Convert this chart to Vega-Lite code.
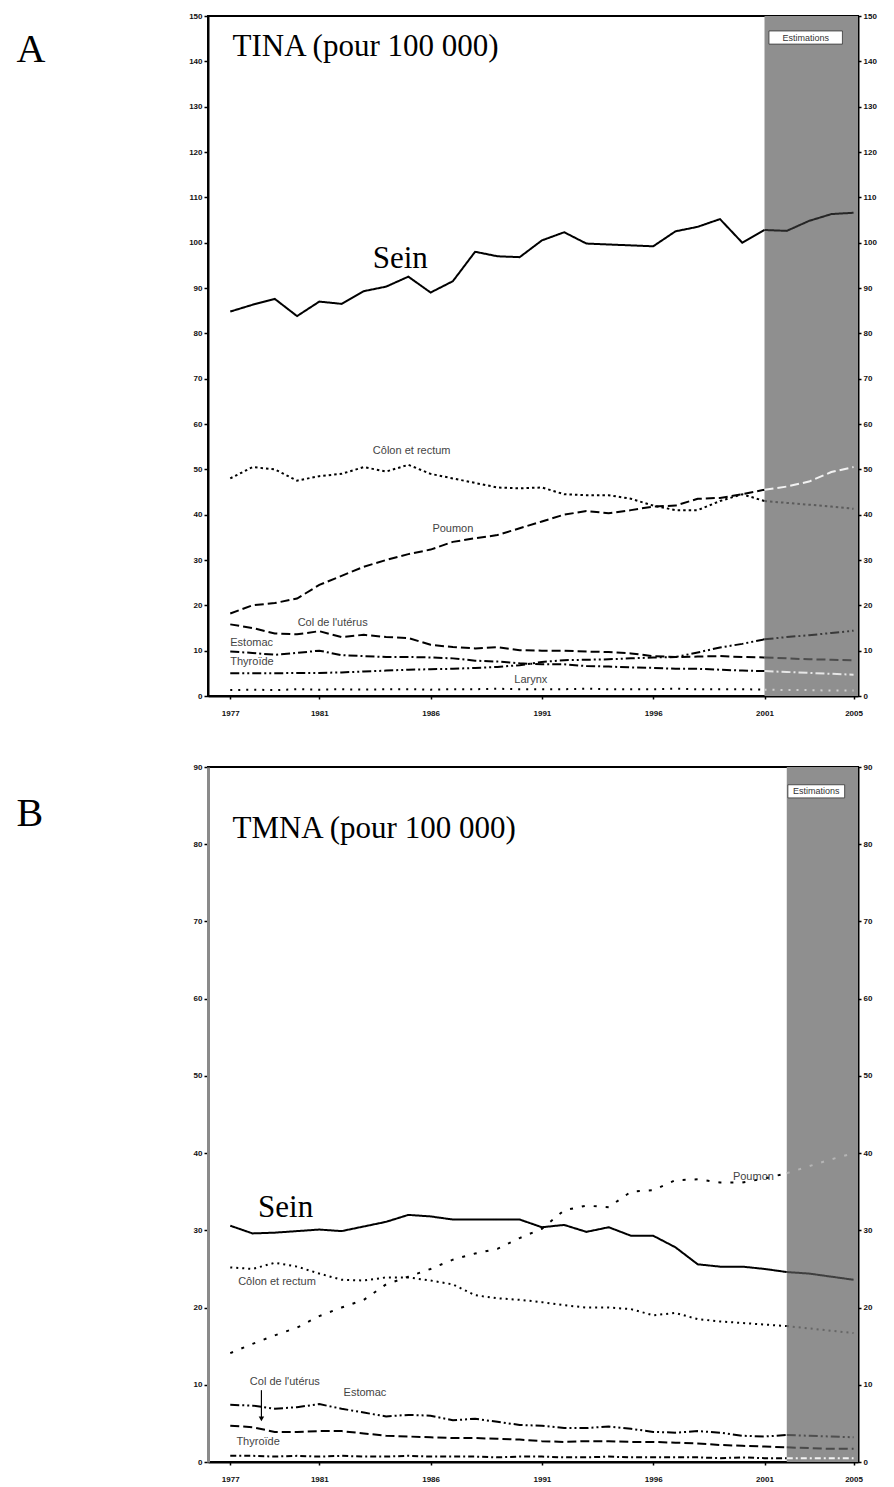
{
"$schema":"https://vega.github.io/schema/vega-lite/v6.json",
"background":"white",
"padding":{"left":15,"top":11,"right":5,"bottom":5},
"config":{
 "view":{"stroke":"#000","strokeWidth":2},
 "axis":{"grid":false,"labelFont":"Liberation Sans","labelFontSize":8,"labelFontWeight":"bold","labelColor":"#111","tickColor":"#000","domainColor":"#000","domainWidth":2,"tickSize":4,"tickWidth":1.5,"labelPadding":2}
},
"datasets":{
 "bandA":[{"year":2001,"year2":2005.2,"value":0,"value2":150}],
 "boxA":[{"year":2001.2,"year2":2004.5,"value":143.8,"value2":146.7}],
 "labelsA":[
  {"label":"TINA (pour 100 000)","kind":"title","year":1977.1,"value":141.2},
  {"label":"Sein","kind":"big","year":1983.4,"value":94.5},
  {"label":"Côlon et rectum","kind":"small","year":1985.15,"value":54.0},
  {"label":"Poumon","kind":"small","year":1987.0,"value":36.8},
  {"label":"Col de l'utérus","kind":"small","year":1981.6,"value":16.2},
  {"label":"Estomac","kind":"left","year":1977.0,"value":11.8},
  {"label":"Thyroïde","kind":"left","year":1977.0,"value":7.6},
  {"label":"Larynx","kind":"small","year":1990.5,"value":3.5},
  {"label":"Estimations","kind":"box","year":2002.85,"value":145.25}
 ],
 "linesA":[
  {"serie":"Sein","year":1977,"value":84.8},{"serie":"Sein","year":1978,"value":86.3},{"serie":"Sein","year":1979,"value":87.6},{"serie":"Sein","year":1980,"value":83.8},{"serie":"Sein","year":1981,"value":87.0},{"serie":"Sein","year":1982,"value":86.5},{"serie":"Sein","year":1983,"value":89.3},{"serie":"Sein","year":1984,"value":90.3},{"serie":"Sein","year":1985,"value":92.5},{"serie":"Sein","year":1986,"value":89.0},{"serie":"Sein","year":1987,"value":91.5},{"serie":"Sein","year":1988,"value":98.0},{"serie":"Sein","year":1989,"value":97.0},{"serie":"Sein","year":1990,"value":96.8},{"serie":"Sein","year":1991,"value":100.5},{"serie":"Sein","year":1992,"value":102.3},{"serie":"Sein","year":1993,"value":99.8},{"serie":"Sein","year":1994,"value":99.6},{"serie":"Sein","year":1995,"value":99.4},{"serie":"Sein","year":1996,"value":99.2},{"serie":"Sein","year":1997,"value":102.5},{"serie":"Sein","year":1998,"value":103.5},{"serie":"Sein","year":1999,"value":105.2},{"serie":"Sein","year":2000,"value":100.0},{"serie":"Sein","year":2001,"value":102.8},{"serie":"Sein","year":2002,"value":102.6},{"serie":"Sein","year":2003,"value":104.8},{"serie":"Sein","year":2004,"value":106.3},{"serie":"Sein","year":2005,"value":106.6},
  {"serie":"Côlon et rectum","year":1977,"value":48.0},{"serie":"Côlon et rectum","year":1978,"value":50.5},{"serie":"Côlon et rectum","year":1979,"value":50.0},{"serie":"Côlon et rectum","year":1980,"value":47.5},{"serie":"Côlon et rectum","year":1981,"value":48.5},{"serie":"Côlon et rectum","year":1982,"value":49.0},{"serie":"Côlon et rectum","year":1983,"value":50.5},{"serie":"Côlon et rectum","year":1984,"value":49.5},{"serie":"Côlon et rectum","year":1985,"value":51.0},{"serie":"Côlon et rectum","year":1986,"value":49.0},{"serie":"Côlon et rectum","year":1987,"value":48.0},{"serie":"Côlon et rectum","year":1988,"value":47.0},{"serie":"Côlon et rectum","year":1989,"value":46.0},{"serie":"Côlon et rectum","year":1990,"value":45.8},{"serie":"Côlon et rectum","year":1991,"value":46.0},{"serie":"Côlon et rectum","year":1992,"value":44.5},{"serie":"Côlon et rectum","year":1993,"value":44.3},{"serie":"Côlon et rectum","year":1994,"value":44.3},{"serie":"Côlon et rectum","year":1995,"value":43.5},{"serie":"Côlon et rectum","year":1996,"value":42.0},{"serie":"Côlon et rectum","year":1997,"value":41.0},{"serie":"Côlon et rectum","year":1998,"value":41.0},{"serie":"Côlon et rectum","year":1999,"value":43.0},{"serie":"Côlon et rectum","year":2000,"value":44.5},{"serie":"Côlon et rectum","year":2001,"value":43.0},{"serie":"Côlon et rectum","year":2002,"value":42.6},{"serie":"Côlon et rectum","year":2003,"value":42.2},{"serie":"Côlon et rectum","year":2004,"value":41.8},{"serie":"Côlon et rectum","year":2005,"value":41.3},
  {"serie":"Poumon","year":1977,"value":18.2},{"serie":"Poumon","year":1978,"value":20.0},{"serie":"Poumon","year":1979,"value":20.5},{"serie":"Poumon","year":1980,"value":21.5},{"serie":"Poumon","year":1981,"value":24.5},{"serie":"Poumon","year":1982,"value":26.5},{"serie":"Poumon","year":1983,"value":28.5},{"serie":"Poumon","year":1984,"value":30.0},{"serie":"Poumon","year":1985,"value":31.3},{"serie":"Poumon","year":1986,"value":32.3},{"serie":"Poumon","year":1987,"value":34.0},{"serie":"Poumon","year":1988,"value":34.8},{"serie":"Poumon","year":1989,"value":35.5},{"serie":"Poumon","year":1990,"value":37.0},{"serie":"Poumon","year":1991,"value":38.5},{"serie":"Poumon","year":1992,"value":40.0},{"serie":"Poumon","year":1993,"value":40.8},{"serie":"Poumon","year":1994,"value":40.3},{"serie":"Poumon","year":1995,"value":41.0},{"serie":"Poumon","year":1996,"value":41.8},{"serie":"Poumon","year":1997,"value":42.0},{"serie":"Poumon","year":1998,"value":43.5},{"serie":"Poumon","year":1999,"value":43.7},{"serie":"Poumon","year":2000,"value":44.5},{"serie":"Poumon","year":2001,"value":45.5},{"serie":"Poumon","year":2002,"value":46.2},{"serie":"Poumon","year":2003,"value":47.3},{"serie":"Poumon","year":2004,"value":49.4},{"serie":"Poumon","year":2005,"value":50.5},
  {"serie":"Col de l'utérus","year":1977,"value":15.8},{"serie":"Col de l'utérus","year":1978,"value":15.0},{"serie":"Col de l'utérus","year":1979,"value":13.8},{"serie":"Col de l'utérus","year":1980,"value":13.6},{"serie":"Col de l'utérus","year":1981,"value":14.3},{"serie":"Col de l'utérus","year":1982,"value":13.0},{"serie":"Col de l'utérus","year":1983,"value":13.5},{"serie":"Col de l'utérus","year":1984,"value":13.0},{"serie":"Col de l'utérus","year":1985,"value":12.8},{"serie":"Col de l'utérus","year":1986,"value":11.3},{"serie":"Col de l'utérus","year":1987,"value":10.8},{"serie":"Col de l'utérus","year":1988,"value":10.5},{"serie":"Col de l'utérus","year":1989,"value":10.8},{"serie":"Col de l'utérus","year":1990,"value":10.1},{"serie":"Col de l'utérus","year":1991,"value":10.0},{"serie":"Col de l'utérus","year":1992,"value":10.0},{"serie":"Col de l'utérus","year":1993,"value":9.8},{"serie":"Col de l'utérus","year":1994,"value":9.7},{"serie":"Col de l'utérus","year":1995,"value":9.4},{"serie":"Col de l'utérus","year":1996,"value":8.8},{"serie":"Col de l'utérus","year":1997,"value":8.6},{"serie":"Col de l'utérus","year":1998,"value":8.7},{"serie":"Col de l'utérus","year":1999,"value":8.8},{"serie":"Col de l'utérus","year":2000,"value":8.6},{"serie":"Col de l'utérus","year":2001,"value":8.5},{"serie":"Col de l'utérus","year":2002,"value":8.3},{"serie":"Col de l'utérus","year":2003,"value":8.1},{"serie":"Col de l'utérus","year":2004,"value":8.0},{"serie":"Col de l'utérus","year":2005,"value":7.9},
  {"serie":"Estomac","year":1977,"value":9.8},{"serie":"Estomac","year":1978,"value":9.5},{"serie":"Estomac","year":1979,"value":9.1},{"serie":"Estomac","year":1980,"value":9.5},{"serie":"Estomac","year":1981,"value":10.0},{"serie":"Estomac","year":1982,"value":9.0},{"serie":"Estomac","year":1983,"value":8.8},{"serie":"Estomac","year":1984,"value":8.6},{"serie":"Estomac","year":1985,"value":8.6},{"serie":"Estomac","year":1986,"value":8.5},{"serie":"Estomac","year":1987,"value":8.3},{"serie":"Estomac","year":1988,"value":7.8},{"serie":"Estomac","year":1989,"value":7.6},{"serie":"Estomac","year":1990,"value":7.2},{"serie":"Estomac","year":1991,"value":7.0},{"serie":"Estomac","year":1992,"value":7.0},{"serie":"Estomac","year":1993,"value":6.6},{"serie":"Estomac","year":1994,"value":6.5},{"serie":"Estomac","year":1995,"value":6.3},{"serie":"Estomac","year":1996,"value":6.2},{"serie":"Estomac","year":1997,"value":6.0},{"serie":"Estomac","year":1998,"value":6.0},{"serie":"Estomac","year":1999,"value":5.8},{"serie":"Estomac","year":2000,"value":5.6},{"serie":"Estomac","year":2001,"value":5.5},{"serie":"Estomac","year":2002,"value":5.3},{"serie":"Estomac","year":2003,"value":5.1},{"serie":"Estomac","year":2004,"value":4.9},{"serie":"Estomac","year":2005,"value":4.7},
  {"serie":"Thyroïde","year":1977,"value":5.0},{"serie":"Thyroïde","year":1978,"value":5.0},{"serie":"Thyroïde","year":1979,"value":5.0},{"serie":"Thyroïde","year":1980,"value":5.1},{"serie":"Thyroïde","year":1981,"value":5.1},{"serie":"Thyroïde","year":1982,"value":5.2},{"serie":"Thyroïde","year":1983,"value":5.4},{"serie":"Thyroïde","year":1984,"value":5.6},{"serie":"Thyroïde","year":1985,"value":5.8},{"serie":"Thyroïde","year":1986,"value":5.9},{"serie":"Thyroïde","year":1987,"value":6.0},{"serie":"Thyroïde","year":1988,"value":6.2},{"serie":"Thyroïde","year":1989,"value":6.4},{"serie":"Thyroïde","year":1990,"value":6.8},{"serie":"Thyroïde","year":1991,"value":7.5},{"serie":"Thyroïde","year":1992,"value":7.9},{"serie":"Thyroïde","year":1993,"value":8.0},{"serie":"Thyroïde","year":1994,"value":8.1},{"serie":"Thyroïde","year":1995,"value":8.3},{"serie":"Thyroïde","year":1996,"value":8.5},{"serie":"Thyroïde","year":1997,"value":8.6},{"serie":"Thyroïde","year":1998,"value":9.6},{"serie":"Thyroïde","year":1999,"value":10.7},{"serie":"Thyroïde","year":2000,"value":11.5},{"serie":"Thyroïde","year":2001,"value":12.5},{"serie":"Thyroïde","year":2002,"value":13.0},{"serie":"Thyroïde","year":2003,"value":13.4},{"serie":"Thyroïde","year":2004,"value":13.9},{"serie":"Thyroïde","year":2005,"value":14.4},
  {"serie":"Larynx","year":1977,"value":1.3},{"serie":"Larynx","year":1978,"value":1.4},{"serie":"Larynx","year":1979,"value":1.3},{"serie":"Larynx","year":1980,"value":1.5},{"serie":"Larynx","year":1981,"value":1.4},{"serie":"Larynx","year":1982,"value":1.5},{"serie":"Larynx","year":1983,"value":1.4},{"serie":"Larynx","year":1984,"value":1.5},{"serie":"Larynx","year":1985,"value":1.5},{"serie":"Larynx","year":1986,"value":1.4},{"serie":"Larynx","year":1987,"value":1.5},{"serie":"Larynx","year":1988,"value":1.5},{"serie":"Larynx","year":1989,"value":1.6},{"serie":"Larynx","year":1990,"value":1.5},{"serie":"Larynx","year":1991,"value":1.5},{"serie":"Larynx","year":1992,"value":1.5},{"serie":"Larynx","year":1993,"value":1.6},{"serie":"Larynx","year":1994,"value":1.5},{"serie":"Larynx","year":1995,"value":1.5},{"serie":"Larynx","year":1996,"value":1.5},{"serie":"Larynx","year":1997,"value":1.6},{"serie":"Larynx","year":1998,"value":1.5},{"serie":"Larynx","year":1999,"value":1.5},{"serie":"Larynx","year":2000,"value":1.5},{"serie":"Larynx","year":2001,"value":1.4},{"serie":"Larynx","year":2002,"value":1.3},{"serie":"Larynx","year":2003,"value":1.3},{"serie":"Larynx","year":2004,"value":1.2},{"serie":"Larynx","year":2005,"value":1.2}
 ],
 "bandB":[{"year":2002,"year2":2005.2,"value":0,"value2":90}],
 "boxB":[{"year":2002.05,"year2":2004.6,"value":86.0,"value2":87.7}],
 "arrowB":[{"year":1978.4,"value":9.3,"value2":5.6}],
 "labelsB":[
  {"label":"TMNA (pour 100 000)","kind":"title","year":1977.1,"value":80.8},
  {"label":"Sein","kind":"big","year":1978.25,"value":31.7},
  {"label":"Côlon et rectum","kind":"small","year":1979.1,"value":23.3},
  {"label":"Poumon","kind":"small","year":2000.5,"value":36.9},
  {"label":"Col de l'utérus","kind":"small","year":1979.45,"value":10.3},
  {"label":"Estomac","kind":"small","year":1983.05,"value":9.0},
  {"label":"Thyroïde","kind":"small","year":1978.25,"value":2.6},
  {"label":"Estimations","kind":"box","year":2003.33,"value":86.85}
 ],
 "linesB":[
  {"serie":"Sein","year":1977,"value":30.6},{"serie":"Sein","year":1978,"value":29.6},{"serie":"Sein","year":1979,"value":29.7},{"serie":"Sein","year":1980,"value":29.9},{"serie":"Sein","year":1981,"value":30.1},{"serie":"Sein","year":1982,"value":29.9},{"serie":"Sein","year":1983,"value":30.5},{"serie":"Sein","year":1984,"value":31.1},{"serie":"Sein","year":1985,"value":32.0},{"serie":"Sein","year":1986,"value":31.8},{"serie":"Sein","year":1987,"value":31.4},{"serie":"Sein","year":1988,"value":31.4},{"serie":"Sein","year":1989,"value":31.4},{"serie":"Sein","year":1990,"value":31.4},{"serie":"Sein","year":1991,"value":30.4},{"serie":"Sein","year":1992,"value":30.7},{"serie":"Sein","year":1993,"value":29.8},{"serie":"Sein","year":1994,"value":30.4},{"serie":"Sein","year":1995,"value":29.3},{"serie":"Sein","year":1996,"value":29.3},{"serie":"Sein","year":1997,"value":27.8},{"serie":"Sein","year":1998,"value":25.6},{"serie":"Sein","year":1999,"value":25.3},{"serie":"Sein","year":2000,"value":25.3},{"serie":"Sein","year":2001,"value":25.0},{"serie":"Sein","year":2002,"value":24.6},{"serie":"Sein","year":2003,"value":24.4},{"serie":"Sein","year":2004,"value":24.0},{"serie":"Sein","year":2005,"value":23.6},
  {"serie":"Côlon et rectum","year":1977,"value":25.2},{"serie":"Côlon et rectum","year":1978,"value":25.0},{"serie":"Côlon et rectum","year":1979,"value":25.8},{"serie":"Côlon et rectum","year":1980,"value":25.3},{"serie":"Côlon et rectum","year":1981,"value":24.4},{"serie":"Côlon et rectum","year":1982,"value":23.6},{"serie":"Côlon et rectum","year":1983,"value":23.5},{"serie":"Côlon et rectum","year":1984,"value":23.9},{"serie":"Côlon et rectum","year":1985,"value":23.9},{"serie":"Côlon et rectum","year":1986,"value":23.5},{"serie":"Côlon et rectum","year":1987,"value":23.0},{"serie":"Côlon et rectum","year":1988,"value":21.6},{"serie":"Côlon et rectum","year":1989,"value":21.2},{"serie":"Côlon et rectum","year":1990,"value":21.0},{"serie":"Côlon et rectum","year":1991,"value":20.7},{"serie":"Côlon et rectum","year":1992,"value":20.3},{"serie":"Côlon et rectum","year":1993,"value":20.0},{"serie":"Côlon et rectum","year":1994,"value":20.0},{"serie":"Côlon et rectum","year":1995,"value":19.8},{"serie":"Côlon et rectum","year":1996,"value":19.0},{"serie":"Côlon et rectum","year":1997,"value":19.3},{"serie":"Côlon et rectum","year":1998,"value":18.5},{"serie":"Côlon et rectum","year":1999,"value":18.2},{"serie":"Côlon et rectum","year":2000,"value":18.0},{"serie":"Côlon et rectum","year":2001,"value":17.8},{"serie":"Côlon et rectum","year":2002,"value":17.6},{"serie":"Côlon et rectum","year":2003,"value":17.3},{"serie":"Côlon et rectum","year":2004,"value":17.0},{"serie":"Côlon et rectum","year":2005,"value":16.7},
  {"serie":"Poumon","year":1977,"value":14.1},{"serie":"Poumon","year":1978,"value":15.3},{"serie":"Poumon","year":1979,"value":16.4},{"serie":"Poumon","year":1980,"value":17.4},{"serie":"Poumon","year":1981,"value":18.9},{"serie":"Poumon","year":1982,"value":20.0},{"serie":"Poumon","year":1983,"value":21.0},{"serie":"Poumon","year":1984,"value":23.0},{"serie":"Poumon","year":1985,"value":24.0},{"serie":"Poumon","year":1986,"value":25.0},{"serie":"Poumon","year":1987,"value":26.2},{"serie":"Poumon","year":1988,"value":27.0},{"serie":"Poumon","year":1989,"value":27.6},{"serie":"Poumon","year":1990,"value":29.0},{"serie":"Poumon","year":1991,"value":30.2},{"serie":"Poumon","year":1992,"value":32.6},{"serie":"Poumon","year":1993,"value":33.2},{"serie":"Poumon","year":1994,"value":33.0},{"serie":"Poumon","year":1995,"value":35.0},{"serie":"Poumon","year":1996,"value":35.2},{"serie":"Poumon","year":1997,"value":36.5},{"serie":"Poumon","year":1998,"value":36.6},{"serie":"Poumon","year":1999,"value":36.2},{"serie":"Poumon","year":2000,"value":36.2},{"serie":"Poumon","year":2001,"value":36.7},{"serie":"Poumon","year":2002,"value":37.4},{"serie":"Poumon","year":2003,"value":38.3},{"serie":"Poumon","year":2004,"value":39.2},{"serie":"Poumon","year":2005,"value":40.0},
  {"serie":"Col de l'utérus","year":1977,"value":4.7},{"serie":"Col de l'utérus","year":1978,"value":4.5},{"serie":"Col de l'utérus","year":1979,"value":3.9},{"serie":"Col de l'utérus","year":1980,"value":3.9},{"serie":"Col de l'utérus","year":1981,"value":4.0},{"serie":"Col de l'utérus","year":1982,"value":4.0},{"serie":"Col de l'utérus","year":1983,"value":3.7},{"serie":"Col de l'utérus","year":1984,"value":3.4},{"serie":"Col de l'utérus","year":1985,"value":3.3},{"serie":"Col de l'utérus","year":1986,"value":3.2},{"serie":"Col de l'utérus","year":1987,"value":3.1},{"serie":"Col de l'utérus","year":1988,"value":3.1},{"serie":"Col de l'utérus","year":1989,"value":3.0},{"serie":"Col de l'utérus","year":1990,"value":2.9},{"serie":"Col de l'utérus","year":1991,"value":2.7},{"serie":"Col de l'utérus","year":1992,"value":2.6},{"serie":"Col de l'utérus","year":1993,"value":2.7},{"serie":"Col de l'utérus","year":1994,"value":2.7},{"serie":"Col de l'utérus","year":1995,"value":2.6},{"serie":"Col de l'utérus","year":1996,"value":2.6},{"serie":"Col de l'utérus","year":1997,"value":2.5},{"serie":"Col de l'utérus","year":1998,"value":2.4},{"serie":"Col de l'utérus","year":1999,"value":2.2},{"serie":"Col de l'utérus","year":2000,"value":2.1},{"serie":"Col de l'utérus","year":2001,"value":2.0},{"serie":"Col de l'utérus","year":2002,"value":1.9},{"serie":"Col de l'utérus","year":2003,"value":1.8},{"serie":"Col de l'utérus","year":2004,"value":1.7},{"serie":"Col de l'utérus","year":2005,"value":1.7},
  {"serie":"Estomac","year":1977,"value":7.4},{"serie":"Estomac","year":1978,"value":7.3},{"serie":"Estomac","year":1979,"value":6.9},{"serie":"Estomac","year":1980,"value":7.1},{"serie":"Estomac","year":1981,"value":7.5},{"serie":"Estomac","year":1982,"value":6.9},{"serie":"Estomac","year":1983,"value":6.4},{"serie":"Estomac","year":1984,"value":5.9},{"serie":"Estomac","year":1985,"value":6.1},{"serie":"Estomac","year":1986,"value":6.0},{"serie":"Estomac","year":1987,"value":5.4},{"serie":"Estomac","year":1988,"value":5.6},{"serie":"Estomac","year":1989,"value":5.2},{"serie":"Estomac","year":1990,"value":4.8},{"serie":"Estomac","year":1991,"value":4.7},{"serie":"Estomac","year":1992,"value":4.4},{"serie":"Estomac","year":1993,"value":4.4},{"serie":"Estomac","year":1994,"value":4.6},{"serie":"Estomac","year":1995,"value":4.3},{"serie":"Estomac","year":1996,"value":3.9},{"serie":"Estomac","year":1997,"value":3.8},{"serie":"Estomac","year":1998,"value":4.0},{"serie":"Estomac","year":1999,"value":3.8},{"serie":"Estomac","year":2000,"value":3.4},{"serie":"Estomac","year":2001,"value":3.3},{"serie":"Estomac","year":2002,"value":3.5},{"serie":"Estomac","year":2003,"value":3.4},{"serie":"Estomac","year":2004,"value":3.3},{"serie":"Estomac","year":2005,"value":3.2},
  {"serie":"Thyroïde","year":1977,"value":0.8},{"serie":"Thyroïde","year":1978,"value":0.8},{"serie":"Thyroïde","year":1979,"value":0.7},{"serie":"Thyroïde","year":1980,"value":0.8},{"serie":"Thyroïde","year":1981,"value":0.7},{"serie":"Thyroïde","year":1982,"value":0.8},{"serie":"Thyroïde","year":1983,"value":0.7},{"serie":"Thyroïde","year":1984,"value":0.7},{"serie":"Thyroïde","year":1985,"value":0.8},{"serie":"Thyroïde","year":1986,"value":0.7},{"serie":"Thyroïde","year":1987,"value":0.7},{"serie":"Thyroïde","year":1988,"value":0.7},{"serie":"Thyroïde","year":1989,"value":0.6},{"serie":"Thyroïde","year":1990,"value":0.7},{"serie":"Thyroïde","year":1991,"value":0.7},{"serie":"Thyroïde","year":1992,"value":0.6},{"serie":"Thyroïde","year":1993,"value":0.6},{"serie":"Thyroïde","year":1994,"value":0.7},{"serie":"Thyroïde","year":1995,"value":0.6},{"serie":"Thyroïde","year":1996,"value":0.6},{"serie":"Thyroïde","year":1997,"value":0.6},{"serie":"Thyroïde","year":1998,"value":0.6},{"serie":"Thyroïde","year":1999,"value":0.5},{"serie":"Thyroïde","year":2000,"value":0.6},{"serie":"Thyroïde","year":2001,"value":0.5},{"serie":"Thyroïde","year":2002,"value":0.5},{"serie":"Thyroïde","year":2003,"value":0.5},{"serie":"Thyroïde","year":2004,"value":0.5},{"serie":"Thyroïde","year":2005,"value":0.5}
 ]
},
"spacing":44,
"resolve":{"scale":{"x":"independent","y":"independent","color":"independent","strokeDash":"independent"}},
"vconcat":[
 {
  "width":650,"height":680,
  "resolve":{"axis":{"y":"independent"}},
  "layer":[
   {
    "encoding":{
     "x":{"field":"year","type":"quantitative","scale":{"domain":[1976,2005.2],"nice":false,"zero":false},"axis":{"values":[1977,1981,1986,1991,1996,2001,2005],"format":"d","title":null,"labelPadding":10,"tickSize":3}},
     "y":{"field":"value","type":"quantitative","scale":{"domain":[0,150],"nice":false,"zero":true},"axis":{"values":[0,10,20,30,40,50,60,70,80,90,100,110,120,130,140,150],"title":"A","titleFont":"Liberation Serif","titleFontSize":40,"titleFontWeight":"normal","titleColor":"#000","titleAngle":0,"titleAlign":"left","titleBaseline":"alphabetic","titleX":-192,"titleY":45}}
    },
    "layer":[
     {"data":{"name":"bandA"},"mark":{"type":"rect","color":"#8f8f8f"},"encoding":{"x2":{"field":"year2"},"y2":{"field":"value2"}}},
     {"data":{"name":"linesA"},"transform":[{"filter":"datum.year <= 2001"}],"mark":{"type":"line","color":"#000","strokeWidth":2},
      "encoding":{"strokeDash":{"field":"serie","type":"nominal","legend":null,"scale":{"domain":["Sein","Côlon et rectum","Poumon","Col de l'utérus","Estomac","Thyroïde","Larynx"],"range":[[1,0],[2.5,3],[9,4],[9,4],[9,3,2,3],[9,3,2,3,2,3],[2,6]]}}}},
     {"data":{"name":"linesA"},"transform":[{"filter":"datum.year >= 2001"}],"mark":{"type":"line","strokeWidth":2},
      "encoding":{"strokeDash":{"field":"serie","type":"nominal","legend":null,"scale":{"domain":["Sein","Côlon et rectum","Poumon","Col de l'utérus","Estomac","Thyroïde","Larynx"],"range":[[1,0],[2.5,3],[9,4],[9,4],[9,3,2,3],[9,3,2,3,2,3],[2,6]]}},
       "color":{"field":"serie","type":"nominal","legend":null,"scale":{"domain":["Sein","Côlon et rectum","Poumon","Col de l'utérus","Estomac","Thyroïde","Larynx"],"range":["#262626","#5c5c5c","#f2f2f2","#4d4d4d","#e6e6e6","#3a3a3a","#cfcfcf"]}}}},
     {"data":{"name":"boxA"},"mark":{"type":"rect","fill":"#ffffff","stroke":"#333333","strokeWidth":0.8},"encoding":{"x2":{"field":"year2"},"y2":{"field":"value2"}}},
     {"data":{"name":"labelsA"},"transform":[{"filter":"datum.kind == 'title'"}],"mark":{"type":"text","font":"Liberation Serif","fontSize":31,"align":"left","baseline":"alphabetic","color":"#000"},"encoding":{"text":{"field":"label"}}},
     {"data":{"name":"labelsA"},"transform":[{"filter":"datum.kind == 'big'"}],"mark":{"type":"text","font":"Liberation Serif","fontSize":31,"align":"left","baseline":"alphabetic","color":"#000"},"encoding":{"text":{"field":"label"}}},
     {"data":{"name":"labelsA"},"transform":[{"filter":"datum.kind == 'small'"}],"mark":{"type":"text","font":"Liberation Sans","fontSize":11,"align":"center","baseline":"middle","color":"#444"},"encoding":{"text":{"field":"label"}}},
     {"data":{"name":"labelsA"},"transform":[{"filter":"datum.kind == 'left'"}],"mark":{"type":"text","font":"Liberation Sans","fontSize":11,"align":"left","baseline":"middle","color":"#444"},"encoding":{"text":{"field":"label"}}},
     {"data":{"name":"labelsA"},"transform":[{"filter":"datum.kind == 'box'"}],"mark":{"type":"text","font":"Liberation Sans","fontSize":9,"align":"center","baseline":"middle","color":"#333"},"encoding":{"text":{"field":"label"}}}
    ]
   },
   {"data":{"name":"bandA"},"mark":{"type":"point","opacity":0},
    "encoding":{"y":{"field":"value","type":"quantitative","axis":{"orient":"right","values":[0,10,20,30,40,50,60,70,80,90,100,110,120,130,140,150],"title":null,"tickSize":3}}}}
  ]
 },
 {
  "width":650,"height":695,
  "resolve":{"axis":{"y":"independent"}},
  "layer":[
   {
    "encoding":{
     "x":{"field":"year","type":"quantitative","scale":{"domain":[1976,2005.2],"nice":false,"zero":false},"axis":{"values":[1977,1981,1986,1991,1996,2001,2005],"format":"d","title":null,"labelPadding":10,"tickSize":3}},
     "y":{"field":"value","type":"quantitative","scale":{"domain":[0,90],"nice":false,"zero":true},"axis":{"values":[0,10,20,30,40,50,60,70,80,90],"domainColor":"#8a8a8a","domainWidth":3,"title":"B","titleFont":"Liberation Serif","titleFontSize":40,"titleFontWeight":"normal","titleColor":"#000","titleAngle":0,"titleAlign":"left","titleBaseline":"alphabetic","titleX":-192,"titleY":58}}
    },
    "layer":[
     {"data":{"name":"bandB"},"mark":{"type":"rect","color":"#8f8f8f"},"encoding":{"x2":{"field":"year2"},"y2":{"field":"value2"}}},
     {"data":{"name":"linesB"},"transform":[{"filter":"datum.year <= 2002"}],"mark":{"type":"line","color":"#000","strokeWidth":2},
      "encoding":{"strokeDash":{"field":"serie","type":"nominal","legend":null,"scale":{"domain":["Sein","Côlon et rectum","Poumon","Col de l'utérus","Estomac","Thyroïde"],"range":[[1,0],[2,4],[3,9],[9,4],[9,3,2,3,2,3],[6,3,2,3]]}}}},
     {"data":{"name":"linesB"},"transform":[{"filter":"datum.year >= 2002"}],"mark":{"type":"line","strokeWidth":2},
      "encoding":{"strokeDash":{"field":"serie","type":"nominal","legend":null,"scale":{"domain":["Sein","Côlon et rectum","Poumon","Col de l'utérus","Estomac","Thyroïde"],"range":[[1,0],[2,4],[3,9],[9,4],[9,3,2,3,2,3],[6,3,2,3]]}},
       "color":{"field":"serie","type":"nominal","legend":null,"scale":{"domain":["Sein","Côlon et rectum","Poumon","Col de l'utérus","Estomac","Thyroïde"],"range":["#3f3f3f","#666666","#b5b5b5","#4a4a4a","#4f4f4f","#f2f2f2"]}}}},
     {"data":{"name":"arrowB"},"mark":{"type":"rule","color":"#000","strokeWidth":1.2},"encoding":{"y2":{"field":"value2"}}},
     {"data":{"name":"arrowB"},"mark":{"type":"point","shape":"triangle-down","filled":true,"color":"#000","size":30,"opacity":1},"encoding":{"y":{"field":"value2","type":"quantitative"}}},
     {"data":{"name":"boxB"},"mark":{"type":"rect","fill":"#ffffff","stroke":"#333333","strokeWidth":0.8},"encoding":{"x2":{"field":"year2"},"y2":{"field":"value2"}}},
     {"data":{"name":"labelsB"},"transform":[{"filter":"datum.kind == 'title'"}],"mark":{"type":"text","font":"Liberation Serif","fontSize":31,"align":"left","baseline":"alphabetic","color":"#000"},"encoding":{"text":{"field":"label"}}},
     {"data":{"name":"labelsB"},"transform":[{"filter":"datum.kind == 'big'"}],"mark":{"type":"text","font":"Liberation Serif","fontSize":31,"align":"left","baseline":"alphabetic","color":"#000"},"encoding":{"text":{"field":"label"}}},
     {"data":{"name":"labelsB"},"transform":[{"filter":"datum.kind == 'small'"}],"mark":{"type":"text","font":"Liberation Sans","fontSize":11,"align":"center","baseline":"middle","color":"#444"},"encoding":{"text":{"field":"label"}}},
     {"data":{"name":"labelsB"},"transform":[{"filter":"datum.kind == 'box'"}],"mark":{"type":"text","font":"Liberation Sans","fontSize":9,"align":"center","baseline":"middle","color":"#333"},"encoding":{"text":{"field":"label"}}}
    ]
   },
   {"data":{"name":"bandB"},"mark":{"type":"point","opacity":0},
    "encoding":{"y":{"field":"value","type":"quantitative","axis":{"orient":"right","values":[0,10,20,30,40,50,60,70,80,90],"title":null,"tickSize":3}}}}
  ]
 }
]
}
